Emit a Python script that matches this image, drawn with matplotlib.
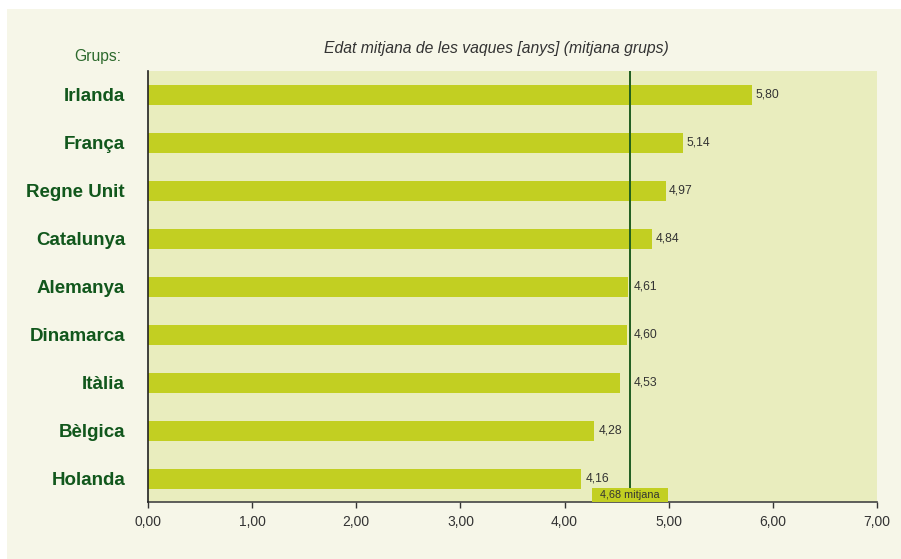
import matplotlib
matplotlib.use("Agg")
import matplotlib.pyplot as plt
from matplotlib.patches import Rectangle
import matplotlib.transforms as mtransforms

plt.rcParams['font.family'] = ['Liberation Sans', 'DejaVu Sans']

groups = ["Irlanda", "França", "Regne Unit", "Catalunya", "Alemanya",
          "Dinamarca", "Itàlia", "Bèlgica", "Holanda"]
values = [5.80, 5.14, 4.97, 4.84, 4.61, 4.60, 4.53, 4.28, 4.16]
value_labels = ["5,80", "5,14", "4,97", "4,84", "4,61", "4,60", "4,53", "4,28", "4,16"]
mean_pos = 4.63
mean_label = "4,68 mitjana"
xticks = [0, 1, 2, 3, 4, 5, 6, 7]
xtick_labels = ["0,00", "1,00", "2,00", "3,00", "4,00", "5,00", "6,00", "7,00"]
title = "Edat mitjana de les vaques [anys] (mitjana grups)"

W, H = 901, 559
fig = plt.figure(figsize=(W / 100, H / 100), dpi=100)
fig.patch.set_facecolor("white")
fig.patches.append(Rectangle((7 / W, 0), 1 - 7 / W, (H - 9) / H, transform=fig.transFigure,
                             facecolor="#f6f6e8", edgecolor="none", zorder=-10))

ax = fig.add_axes([148 / W, 1 - 502 / H, (877 - 148) / W, (502 - 71) / H])
ax.set_facecolor("#e9edbe")

bar_color = "#c2cf22"
ypos = list(range(len(groups)))
ax.barh(ypos, values, height=0.42, color=bar_color, zorder=2)

ax.set_xlim(0, 7)
ax.set_ylim(8.48, -0.5)

ax.axvline(mean_pos, color="#1f5e1f", lw=1.4, zorder=3)

for y, v, lab in zip(ypos, values, value_labels):
    near = v > mean_pos - 0.12
    ax.annotate(lab, xy=(max(v, mean_pos) if near else v, y),
                xytext=(2.5 if near else 3.5, 0), textcoords="offset points",
                ha="left", va="center", fontsize=8.7, color="#333333", zorder=4)

trans = mtransforms.blended_transform_factory(ax.transData, ax.transAxes)
ax.text(mean_pos, 0.016, "  " + mean_label + "  ", transform=trans, ha="center", va="center",
        fontsize=7.8, color="#333333", zorder=5, clip_on=False,
        bbox=dict(boxstyle="square,pad=0.2", facecolor=bar_color, edgecolor="none"))

ax.set_xticks(xticks)
ax.set_xticklabels(xtick_labels, fontsize=10, color="#333333")
ax.tick_params(axis="x", direction="out", length=4, width=1, color="#333333", pad=5.5)
ax.set_yticks(ypos)
ax.set_yticklabels(groups, fontsize=13.5, fontweight="bold", color="#11571c")
ax.tick_params(axis="y", length=0, pad=16.5)

for s in ["top", "right"]:
    ax.spines[s].set_visible(False)
ax.spines["left"].set_color("#222222")
ax.spines["left"].set_linewidth(1.2)
ax.spines["left"].set_zorder(6)
ax.spines["bottom"].set_color("#444444")
ax.spines["bottom"].set_linewidth(1.2)

fig.text(121 / W, 1 - 57 / H, "Grups:", ha="right", va="center", fontsize=11.3,
         color="#2d6a2d")
fig.text(496 / W, 1 - 48 / H, title, ha="center", va="center", fontsize=11.3,
         style="italic", color="#333333")

fig.savefig("out.png", dpi=100, facecolor=fig.get_facecolor())
